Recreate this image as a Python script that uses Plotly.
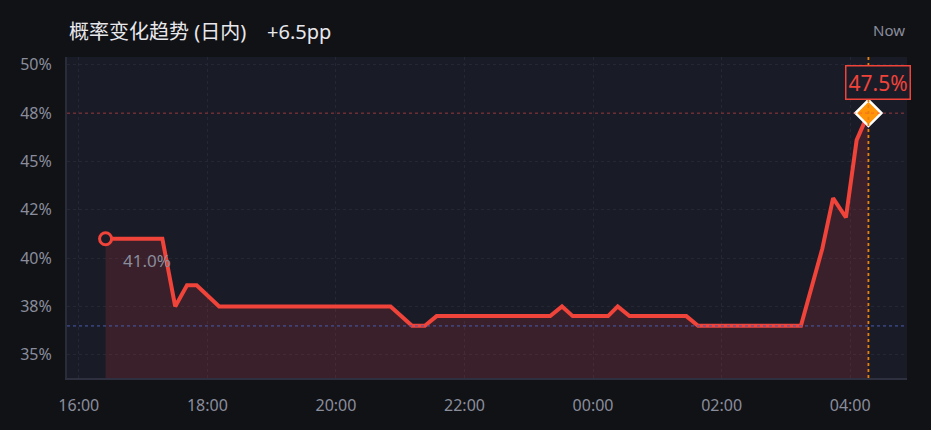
import plotly.graph_objects as go

# intraday probability readings (%)
times = [
    "2024-05-01 16:25", "2024-05-01 17:18", "2024-05-01 17:30", "2024-05-01 17:41",
    "2024-05-01 17:50", "2024-05-01 18:11", "2024-05-01 20:51", "2024-05-01 21:11",
    "2024-05-01 21:23", "2024-05-01 21:34", "2024-05-01 23:20", "2024-05-01 23:31",
    "2024-05-01 23:41", "2024-05-02 00:14", "2024-05-02 00:23", "2024-05-02 00:34",
    "2024-05-02 01:27", "2024-05-02 01:38", "2024-05-02 03:14", "2024-05-02 03:34",
    "2024-05-02 03:44", "2024-05-02 03:56", "2024-05-02 04:06", "2024-05-02 04:17",
]
values = [41.0, 41.0, 37.5, 38.6, 38.6, 37.5, 37.5, 36.5, 36.5, 37.0, 37.0, 37.5,
          37.0, 37.0, 37.5, 37.0, 37.0, 36.5, 36.5, 40.5, 43.1, 42.1, 46.1, 47.5]

y_ticks = [35, 37.5, 40, 42.5, 45, 47.5, 50]
y_labels = ["35%", "38%", "40%", "42%", "45%", "48%", "50%"]
x_ticks = ["2024-05-01 16:00", "2024-05-01 18:00", "2024-05-01 20:00", "2024-05-01 22:00",
           "2024-05-02 00:00", "2024-05-02 02:00", "2024-05-02 04:00"]
x_labels = ["16:00", "18:00", "20:00", "22:00", "00:00", "02:00", "04:00"]

title_text = "概率变化趋势 (日内)    +6.5pp"
start_val, now_val = values[0], values[-1]
low_val = min(values)

RED = "#f0433a"
GRID = "#252735"
MUTED = "#8a8d9c"
FONT = "Noto Sans, Noto Sans CJK SC, sans-serif"

fig = go.Figure()
fig.add_trace(go.Scatter(
    x=times, y=values, mode="lines",
    line=dict(color=RED, width=4),
    fill="tozeroy", fillcolor="rgba(240,67,58,0.15)",
    hoverinfo="skip", showlegend=False,
))
# start point
fig.add_trace(go.Scatter(
    x=[times[0]], y=[start_val], mode="markers",
    marker=dict(size=12, color="#1a1c28", line=dict(color=RED, width=3)),
    showlegend=False,
))
# current point
fig.add_trace(go.Scatter(
    x=[times[-1]], y=[now_val], mode="markers",
    marker=dict(symbol="diamond", size=20, color="#ff9408", line=dict(color="white", width=2.5)),
    showlegend=False,
))

fig.add_hline(y=now_val, line_dash="dot", line_width=1.2, line_color="rgba(240,67,58,0.45)")
fig.add_hline(y=low_val, line_dash="dot", line_width=1.8, line_color="rgba(70,90,170,0.6)")
fig.add_vline(x=times[-1], line_dash="dot", line_width=1.8, line_color="#e8820c")

fig.add_annotation(x=times[0], y=start_val, text=f"{start_val:.1f}%", showarrow=False,
                   xanchor="left", yanchor="middle", xshift=15, yshift=-22,
                   font=dict(size=17, color=MUTED, family=FONT))
fig.add_annotation(x=times[-1], y=now_val, text=f"{now_val:.1f}%", showarrow=False,
                   xanchor="center", yanchor="middle", xshift=10, yshift=31,
                   font=dict(size=21, color=RED, family=FONT),
                   bgcolor="#1a1c28", bordercolor=RED, borderwidth=1.5, borderpad=2)
fig.add_annotation(xref="paper", yref="paper", x=0, y=1.078, text=title_text,
                   showarrow=False, xanchor="left", yanchor="middle",
                   font=dict(size=20, color="#e8e8ec", family=FONT))
fig.add_annotation(xref="paper", yref="paper", x=1, y=1.084, text="Now",
                   showarrow=False, xanchor="right", yanchor="middle",
                   font=dict(size=15, color=MUTED, family=FONT))

fig.update_xaxes(
    range=["2024-05-01 15:49", "2024-05-02 04:53"],
    tickvals=x_ticks, ticktext=x_labels,
    showgrid=True, gridcolor=GRID, griddash="3px,3px", gridwidth=1,
    showline=True, linecolor="#2e3040", linewidth=2,
    ticks="", ticklabelstandoff=12, zeroline=False,
    tickfont=dict(size=16, color=MUTED, family=FONT),
)
fig.update_yaxes(
    range=[33.8, 50.4],
    tickvals=y_ticks, ticktext=y_labels,
    showgrid=True, gridcolor=GRID, griddash="3px,3px", gridwidth=1,
    showline=True, linecolor="#2a2c3a", linewidth=2,
    ticks="", ticklabelstandoff=10, zeroline=False,
    tickfont=dict(size=16, color=MUTED, family=FONT),
)
fig.update_layout(
    width=931, height=430,
    margin=dict(l=67, r=24, t=57, b=52),
    paper_bgcolor="#111216", plot_bgcolor="#191b27",
    font=dict(family=FONT),
    hovermode=False,
)
fig.write_html("out.html", config={"displayModeBar": False},
               post_script="document.body.style.margin='0';")
